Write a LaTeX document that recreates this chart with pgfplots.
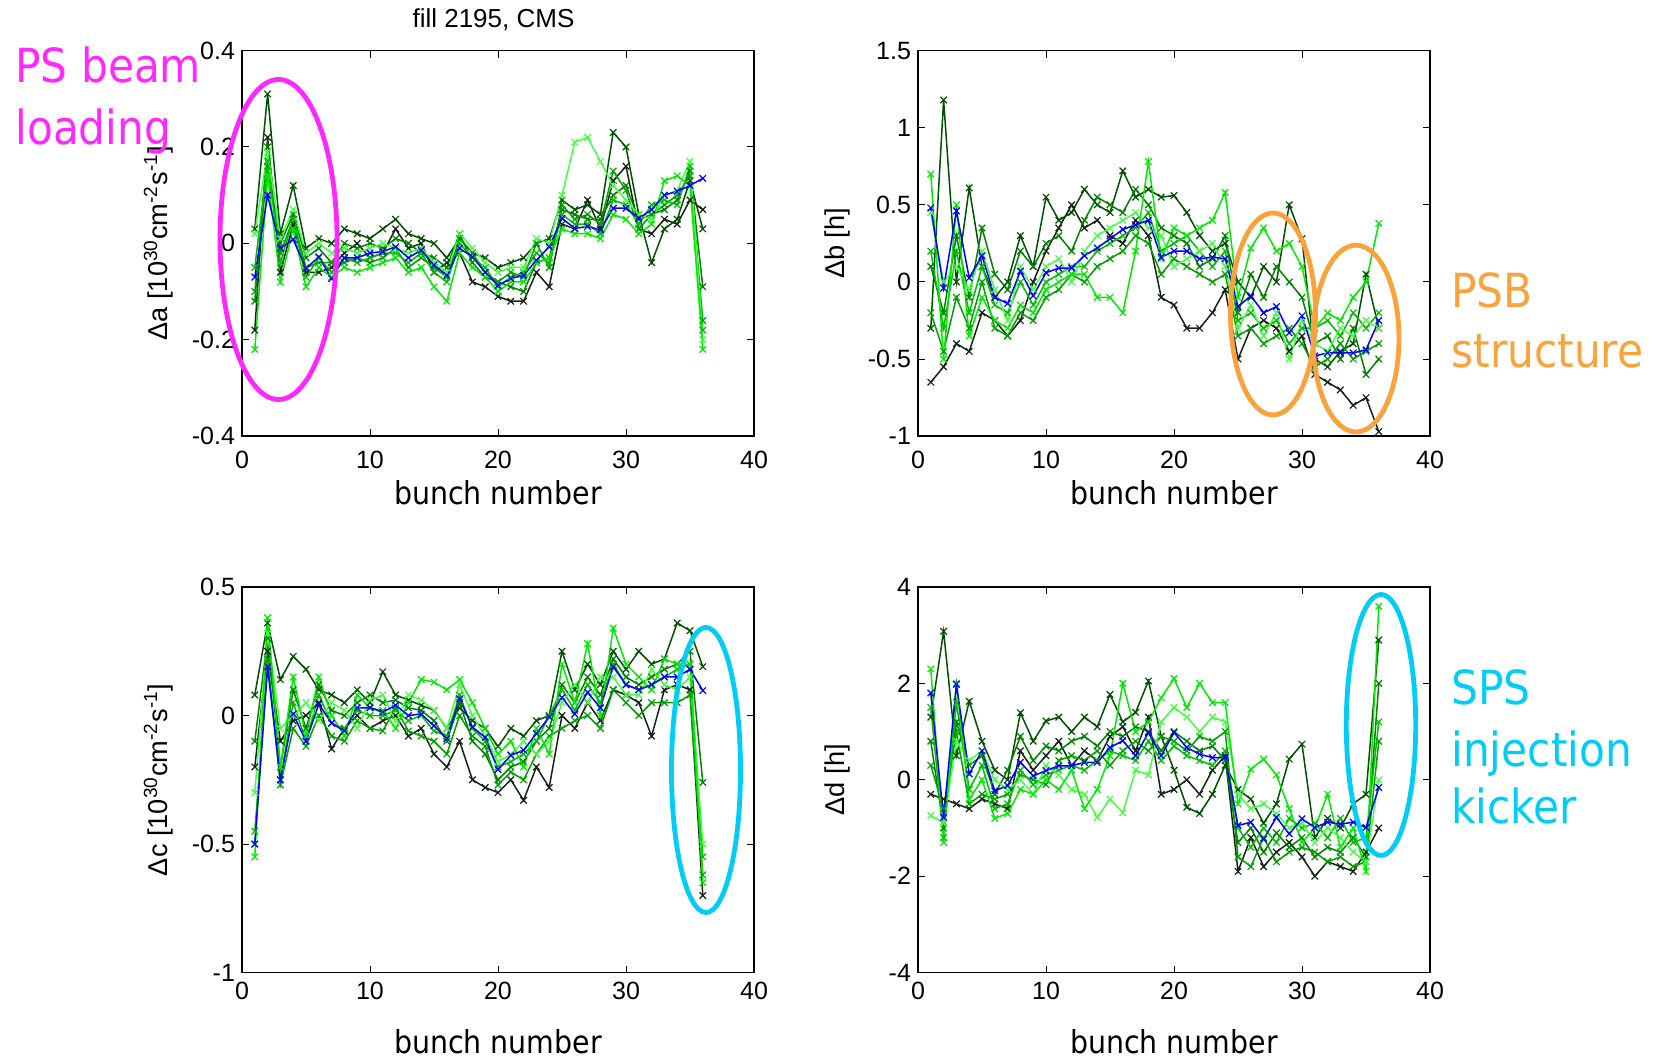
\documentclass[border=0pt]{standalone}
\usepackage{fontspec}
\setmainfont{Liberation Sans}
\newfontfamily\annfont[FakeStretch=0.9]{DejaVu Sans}
\usepackage{pgfplots}
\usepackage{pgfplotstable}
\pgfplotsset{compat=1.18}

\definecolor{cK}{RGB}{20,35,20}
\definecolor{cD}{RGB}{0,80,0}
\definecolor{cM}{RGB}{0,130,0}
\definecolor{cP}{RGB}{0,160,0}
\definecolor{cG}{RGB}{0,190,0}
\definecolor{cL}{RGB}{70,255,70}
\definecolor{cB}{RGB}{0,235,0}
\definecolor{magC}{RGB}{255,40,255}
\definecolor{oraC}{RGB}{250,162,60}
\definecolor{cyaC}{RGB}{0,205,245}

% x = bunch, b = mean (blue), s1..s7 = individual traces
\pgfplotstableread{
x b s1 s2 s3 s4 s5 s6 s7
1 -0.07 0.03 -0.18 -0.12 -0.05 -0.22 0.02 -0.10
2 0.10 0.31 0.22 0.20 0.17 0.14 0.19 0.16
3 -0.01 0.02 -0.06 0.00 -0.04 -0.08 0.01 -0.02
4 0.008 0.12 0.04 0.06 0.05 0.03 0.07 0.05
5 -0.052 -0.01 -0.06 -0.03 -0.07 -0.09 -0.02 -0.05
6 -0.028 0.01 -0.06 -0.01 -0.03 -0.05 0.00 -0.04
7 -0.073 0.00 -0.05 -0.04 -0.06 -0.07 -0.02 -0.04
8 -0.03 0.03 -0.02 0.00 -0.03 -0.05 -0.01 -0.04
9 -0.03 0.02 0.00 -0.01 -0.04 -0.06 -0.02 -0.03
10 -0.02 0.01 -0.03 0.00 -0.03 -0.05 -0.01 -0.04
11 -0.017 0.03 -0.02 -0.01 -0.02 -0.04 0.00 -0.03
12 -0.007 0.05 0.03 0.01 -0.02 -0.03 -0.01 -0.01
13 -0.03 0.02 -0.01 0.00 -0.04 -0.06 -0.02 -0.05
14 -0.014 0.01 0.00 -0.02 -0.02 -0.05 -0.01 -0.03
15 -0.045 0.00 -0.06 -0.03 -0.06 -0.09 -0.04 -0.05
16 -0.066 -0.03 -0.04 -0.05 -0.08 -0.12 -0.06 -0.07
17 -0.01 0.01 -0.02 0.02 0.00 -0.02 0.02 0.01
18 -0.028 -0.02 -0.08 -0.04 -0.03 -0.05 -0.01 -0.02
19 -0.06 -0.03 -0.09 -0.07 -0.05 -0.07 -0.04 -0.06
20 -0.087 -0.05 -0.11 -0.08 -0.09 -0.10 -0.06 -0.08
21 -0.073 -0.04 -0.12 -0.09 -0.07 -0.08 -0.05 -0.06
22 -0.066 -0.03 -0.12 -0.10 -0.06 -0.08 -0.05 -0.07
23 -0.035 0.00 -0.06 -0.04 -0.02 -0.04 0.01 0.00
24 -0.007 0.01 -0.09 -0.03 -0.04 -0.03 0.00 -0.05
25 0.052 0.09 0.04 0.07 0.06 0.03 0.10 0.08
26 0.031 0.07 0.03 0.06 0.04 0.02 0.21 0.05
27 0.035 0.08 0.09 0.05 0.04 0.02 0.22 0.06
28 0.028 0.06 0.03 0.05 0.02 0.01 0.17 0.04
29 0.073 0.23 0.13 0.10 0.09 0.06 0.12 0.15
30 0.073 0.20 0.16 0.12 0.08 0.05 0.09 0.11
31 0.052 0.06 0.03 0.05 0.04 0.02 0.06 0.03
32 0.07 -0.04 0.02 0.06 0.08 0.04 0.05 0.06
33 0.10 0.03 0.05 0.07 0.09 0.13 0.10 0.08
34 0.108 0.05 0.04 0.09 0.08 0.14 0.11 0.10
35 0.12 0.13 0.09 0.15 0.16 0.12 0.17 0.14
36 0.135 0.03 0.07 -0.09 -0.18 -0.22 -0.20 -0.16
}\tA

\pgfplotstableread{
x b s1 s2 s3 s4 s5 s6 s7
1 0.48 -0.3 -0.65 0.1 0.2 0.7 0.45 -0.2
2 -0.04 1.18 -0.55 -0.2 -0.3 -0.5 0.0 -0.45
3 0.46 0.0 -0.4 0.3 0.2 0.5 0.1 -0.1
4 0.026 0.61 -0.45 -0.1 -0.2 -0.35 -0.05 -0.3
5 0.17 0.1 -0.2 0.35 0.1 -0.1 0.2 0.0
6 -0.10 -0.1 -0.25 0.05 -0.15 -0.25 -0.05 -0.3
7 -0.14 0.0 -0.35 -0.05 -0.2 -0.3 -0.25 -0.35
8 0.07 0.3 -0.25 0.2 0.0 -0.15 0.1 -0.2
9 -0.09 0.1 0.0 0.1 -0.15 -0.2 -0.05 -0.25
10 0.06 0.55 0.2 0.25 0.0 -0.05 0.1 -0.1
11 0.09 0.4 0.35 0.3 0.05 0.0 0.15 -0.05
12 0.09 0.45 0.5 0.2 0.1 0.05 0.0 0.05
13 0.17 0.6 0.35 0.4 0.1 0.05 0.2 0.0
14 0.22 0.5 0.4 0.55 0.2 -0.1 0.3 0.1
15 0.28 0.45 0.3 0.5 0.25 -0.1 0.35 0.15
16 0.34 0.72 0.25 0.45 0.3 -0.2 0.4 0.2
17 0.37 0.55 0.4 0.6 0.35 0.2 0.45 0.3
18 0.40 0.6 0.3 0.5 0.45 0.78 0.35 0.25
19 0.16 0.55 -0.1 0.35 0.2 0.15 0.3 0.05
20 0.20 0.56 -0.15 0.3 0.25 0.35 0.1 0.15
21 0.20 0.45 -0.3 0.25 0.3 0.3 0.15 0.1
22 0.15 0.3 -0.3 0.1 0.2 0.35 0.2 0.05
23 0.16 0.2 -0.2 0.15 0.1 0.4 0.25 0.0
24 0.15 0.25 -0.05 0.3 0.2 0.58 0.1 0.05
25 -0.16 0.0 -0.5 -0.2 -0.25 -0.1 -0.3 -0.35
26 -0.09 -0.1 -0.3 0.05 -0.2 0.22 -0.15 -0.3
27 -0.20 0.1 -0.25 -0.1 -0.3 0.35 -0.35 -0.4
28 -0.16 0.0 -0.3 0.1 -0.25 0.2 -0.2 -0.35
29 -0.33 0.5 -0.45 0.0 -0.4 0.25 -0.5 -0.3
30 -0.22 0.28 -0.35 -0.1 -0.3 0.1 -0.25 -0.4
31 -0.48 -0.5 -0.6 -0.4 -0.3 -0.3 -0.4 -0.55
32 -0.46 -0.55 -0.65 -0.35 -0.25 -0.2 -0.45 -0.5
33 -0.46 -0.45 -0.7 -0.5 -0.35 -0.25 -0.3 -0.4
34 -0.46 -0.4 -0.8 -0.3 -0.2 -0.1 -0.35 -0.5
35 -0.44 0.05 -0.75 -0.6 -0.3 0.0 -0.25 -0.45
36 -0.25 -0.3 -0.97 -0.5 -0.2 0.38 -0.3 -0.4
}\tB

\pgfplotstableread{
x b s1 s2 s3 s4 s5 s6 s7
1 -0.5 0.08 -0.2 -0.1 -0.45 -0.55 -0.3 -0.5
2 0.19 0.36 0.25 0.3 0.2 0.38 0.32 0.22
3 -0.25 0.14 -0.1 -0.2 -0.25 -0.2 -0.05 -0.27
4 0.006 0.23 -0.02 0.1 0.05 0.15 0.0 -0.05
5 -0.10 0.18 0.0 -0.05 -0.1 -0.08 0.05 -0.12
6 0.045 0.1 0.05 0.12 0.08 0.15 -0.02 0.0
7 -0.03 0.08 -0.13 0.02 -0.03 0.0 0.05 -0.08
8 -0.06 0.05 -0.05 0.0 -0.05 -0.08 0.02 -0.1
9 0.03 0.1 0.0 0.05 0.02 0.08 -0.05 -0.02
10 0.03 0.05 -0.05 0.08 0.0 0.03 0.06 -0.05
11 0.013 0.17 -0.02 0.05 0.0 0.02 0.08 -0.06
12 0.04 0.08 0.0 0.06 0.02 -0.05 -0.02 0.03
13 0.0 0.06 -0.08 0.03 -0.02 0.05 0.08 -0.06
14 0.006 0.04 -0.05 0.02 0.0 0.14 0.06 -0.08
15 -0.04 0.02 -0.15 -0.02 -0.06 0.13 0.02 -0.1
16 -0.09 -0.05 -0.2 -0.1 -0.08 0.1 -0.05 -0.15
17 0.065 0.03 -0.1 0.05 0.08 0.14 0.12 0.0
18 -0.045 -0.02 -0.25 -0.1 -0.05 0.05 0.0 -0.08
19 -0.085 -0.05 -0.28 -0.15 -0.1 -0.05 -0.08 -0.12
20 -0.21 -0.12 -0.3 -0.25 -0.2 -0.15 -0.18 -0.27
21 -0.155 -0.05 -0.25 -0.2 -0.18 -0.1 -0.15 -0.22
22 -0.135 -0.08 -0.33 -0.18 -0.15 -0.2 -0.1 -0.25
23 -0.07 -0.02 -0.2 -0.1 -0.1 -0.05 -0.15 -0.15
24 -0.006 0.0 -0.28 -0.05 0.0 -0.15 -0.1 -0.08
25 0.07 0.25 0.0 0.12 0.1 0.2 0.05 -0.05
26 0.006 0.1 -0.05 0.05 0.02 0.05 0.12 -0.02
27 0.09 0.2 0.05 0.15 0.12 0.28 0.05 0.0
28 0.03 0.12 -0.02 0.08 0.05 0.0 0.15 -0.05
29 0.19 0.25 0.1 0.22 0.2 0.34 0.15 0.1
30 0.12 0.18 0.08 0.15 0.12 0.2 0.08 0.05
31 0.10 0.25 0.05 0.12 0.1 0.15 0.08 0.0
32 0.12 0.2 -0.08 0.15 0.12 0.1 0.18 0.05
33 0.15 0.22 0.1 0.18 0.15 0.22 0.12 0.05
34 0.15 0.36 0.12 0.2 0.18 0.2 0.1 0.05
35 0.18 0.33 0.1 0.25 0.2 0.2 0.15 0.08
36 0.097 0.19 -0.7 -0.26 -0.55 -0.65 -0.5 -0.62
}\tC

\pgfplotstableread{
x b s1 s2 s3 s4 s5 s6 s7
1 1.8 1.3 -0.3 0.8 1.5 2.3 -0.74 0.3
2 -0.78 3.08 -0.4 -1.0 -1.2 -1.3 -0.9 -0.6
3 1.98 0.5 -0.5 1.2 1.6 2.0 0.8 1.0
4 0.12 1.63 -0.6 0.3 -0.2 -0.4 0.4 -0.5
5 0.6 0.8 -0.4 0.5 0.3 0.0 0.6 -0.3
6 -0.23 0.2 -0.5 -0.3 -0.6 -0.8 0.0 -0.4
7 -0.12 0.0 -0.6 0.2 -0.5 -0.7 -0.2 -0.3
8 0.36 1.39 0.6 0.9 0.2 -0.2 0.0 0.1
9 0.08 0.8 0.2 0.4 -0.1 -0.3 -0.3 0.0
10 0.19 1.22 0.5 0.7 0.1 0.0 0.3 -0.1
11 0.29 1.3 0.8 0.6 0.2 -0.2 0.1 0.4
12 0.29 1.0 0.3 0.8 0.3 0.2 -0.2 0.5
13 0.36 1.3 0.6 0.9 0.2 -0.6 -0.3 0.4
14 0.36 1.1 0.4 0.7 0.4 -0.2 -0.78 0.6
15 0.67 1.77 0.9 1.0 0.6 0.5 -0.4 0.3
16 0.81 1.2 1.1 0.9 0.5 2.0 -0.68 0.6
17 0.5 1.4 0.6 1.1 0.4 1.0 0.2 0.8
18 0.98 2.05 1.3 1.0 0.8 1.2 0.1 0.6
19 0.5 0.9 -0.3 0.6 0.4 1.7 1.2 0.9
20 0.98 0.2 -0.2 1.0 0.7 2.1 1.5 0.8
21 0.67 -0.57 0.0 0.8 0.5 1.5 1.3 0.6
22 0.53 -0.7 -0.3 0.6 0.4 2.0 1.0 0.9
23 0.46 -0.3 0.2 0.7 0.3 1.6 1.3 0.8
24 0.46 0.3 0.5 0.4 0.6 1.6 1.2 1.0
25 -0.95 -0.2 -1.9 -1.3 -1.0 -0.5 -0.3 -1.6
26 -0.88 -0.4 -1.2 -1.0 -1.4 0.22 -0.6 -1.8
27 -1.23 -0.9 -1.8 -1.5 -1.0 0.43 -0.5 -1.2
28 -0.78 -0.5 -1.5 -1.1 -1.3 0.1 -0.7 -1.7
29 -1.12 0.43 -1.3 -1.4 -0.8 -0.6 -1.0 -1.5
30 -0.81 0.74 -1.6 -1.2 -1.0 -1.3 -0.9 -1.4
31 -0.99 -1.2 -2.0 -1.6 -0.9 -1.0 -1.3 -1.5
32 -0.88 -0.8 -1.7 -1.4 -1.2 -0.3 -1.0 -1.7
33 -0.92 -1.0 -1.8 -1.5 -0.8 -1.4 -1.2 -1.6
34 -0.88 -0.5 -1.9 -1.2 -1.3 -1.0 -1.5 -1.8
35 -0.99 -0.3 -1.5 -1.6 -1.2 -1.9 -1.7 -1.7
36 -0.16 2.9 -1.0 2.0 1.2 3.6 0.0 0.8
}\tD

\pgfplotsset{
  panel/.style={
    scale only axis, width=256pt, height=192.8pt, anchor=south west,
    xmin=0, xmax=40, xtick={0,10,20,30,40},
    tick align=inside, major tick length=3.5pt,
    tick style={black, line width=0.5pt},
    axis line style={line width=0.8pt},
    ticklabel style={font=\fontsize{12.5}{14}\selectfont},
    /pgf/number format/assume math mode=true,
    every axis y label/.style={at={(axis description cs:-0.163,0.5)}, rotate=90, anchor=center, font=\fontsize{13.6}{16}\selectfont},
    every axis x label/.style={at={(axis description cs:0.5,0)}, anchor=base, font=\annfont\fontsize{15.8}{18}\selectfont},
    xlabel={bunch number},
  },
  trace/.style={mark=x, mark size=2.3pt, line width=0.75pt, mark options={solid, line width=0.6pt}},
}

\newcommand{\traces}[1]{%
  \addplot[trace, color=cK] table[x=x, y=s2] {#1};
  \addplot[trace, color=cD] table[x=x, y=s1] {#1};
  \addplot[trace, color=cM] table[x=x, y=s3] {#1};
  \addplot[trace, color=cP] table[x=x, y=s7] {#1};
  \addplot[trace, color=cG] table[x=x, y=s4] {#1};
  \addplot[trace, color=cL] table[x=x, y=s6] {#1};
  \addplot[trace, color=cB] table[x=x, y=s5] {#1};
  \addplot[trace, color=blue] table[x=x, y=b] {#1};
}

\begin{document}
\begin{tikzpicture}
\path[use as bounding box] (0,0) rectangle (828pt,529.5pt);

\begin{axis}[panel, at={(121pt,311.4pt)}, ymin=-0.4, ymax=0.4, ytick={-0.4,-0.2,0,0.2,0.4},
  xticklabel style={anchor=base, yshift=-16pt}, xlabel style={yshift=-34.4pt},
  ylabel={Δa [10\textsuperscript{30}cm\textsuperscript{-2}s\textsuperscript{-1}]}]
\traces{\tA}
\end{axis}

\begin{axis}[panel, at={(459pt,311.4pt)}, ymin=-1, ymax=1.5, ytick={-1,-0.5,0,0.5,1,1.5},
  xticklabel style={anchor=base, yshift=-16pt}, xlabel style={yshift=-34.4pt},
  every axis y label/.append style={at={(axis description cs:-0.158,0.5)}},
  ylabel={Δb [h]}]
\traces{\tB}
\end{axis}

\begin{axis}[panel, at={(121pt,43.2pt)}, ymin=-1, ymax=0.5, ytick={-1,-0.5,0,0.5},
  xticklabel style={anchor=base, yshift=-13.5pt}, xlabel style={yshift=-40.4pt},
  ylabel={Δc [10\textsuperscript{30}cm\textsuperscript{-2}s\textsuperscript{-1}]}]
\traces{\tC}
\end{axis}

\begin{axis}[panel, at={(459pt,43.2pt)}, ymin=-4, ymax=4, ytick={-4,-2,0,2,4},
  xticklabel style={anchor=base, yshift=-13.5pt}, xlabel style={yshift=-40.4pt},
  every axis y label/.append style={at={(axis description cs:-0.158,0.5)}},
  ylabel={Δd [h]}]
\traces{\tD}
\end{axis}

% title
\node[anchor=base, inner sep=0pt, font=\fontsize{13}{15}\selectfont] at (246.75pt,515.5pt) {fill 2195, CMS};

% annotations
\draw[magC, line width=2.4pt] (139.25pt,409.75pt) ellipse [x radius=29.25pt, y radius=80pt];
\draw[oraC, line width=2.4pt] (636.5pt,372.5pt) ellipse [x radius=21.25pt, y radius=50.5pt];
\draw[oraC, line width=2.4pt] (678pt,360.2pt) ellipse [x radius=21.5pt, y radius=46.7pt];
\draw[cyaC, line width=2.4pt] (353pt,144.5pt) ellipse [x radius=17.25pt, y radius=71.25pt];
\draw[cyaC, line width=2.4pt] (690.5pt,167pt) ellipse [x radius=17.35pt, y radius=65.25pt];

\begin{scope}[every node/.style={anchor=base west, inner sep=0pt, font=\annfont\fontsize{23.5}{28}\selectfont}]
\node[magC] at (7.5pt,488pt) {PS beam};
\node[magC] at (7.5pt,457pt) {loading};
\node[oraC] at (725.5pt,375.5pt) {PSB};
\node[oraC] at (725.5pt,345.5pt) {structure};
\node[cyaC] at (725.5pt,177pt) {SPS};
\node[cyaC] at (725.5pt,146pt) {injection};
\node[cyaC] at (725.5pt,117.5pt) {kicker};
\end{scope}
\end{tikzpicture}
\end{document}
